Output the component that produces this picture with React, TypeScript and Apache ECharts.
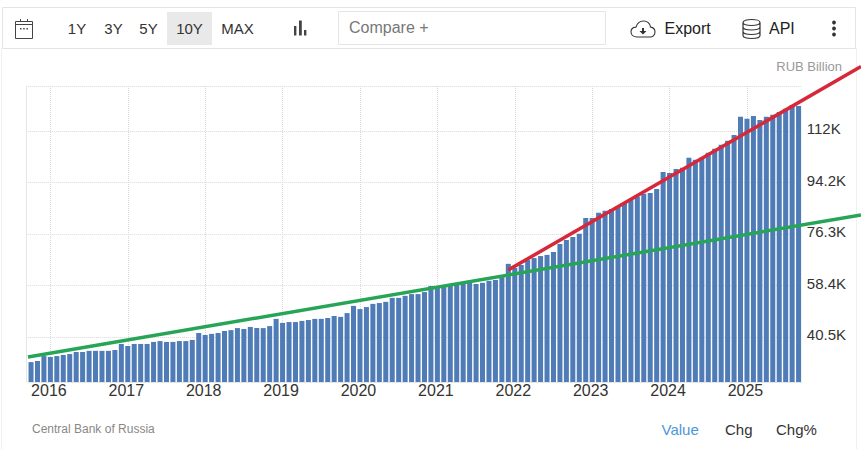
import React, { useEffect, useRef } from "react";
import * as echarts from "echarts";

const FONT = "'Liberation Sans', Arial, sans-serif";

// Monthly values, thousands of RUB billion, Oct 2015 .. Sep 2025
const values2015 = [31.9, 32.3, 34.0];
const values2016 = [33.7, 34.0, 34.4, 34.7, 35.4, 35.4, 35.8, 35.8, 35.8, 35.8, 36.1, 38.2];
const values2017 = [37.5, 38.2, 38.2, 38.2, 38.9, 39.2, 38.9, 38.9, 39.2, 39.2, 39.6, 42.0];
const values2018 = [41.3, 41.7, 42.0, 42.7, 43.0, 43.7, 43.4, 44.1, 43.7, 43.7, 44.4, 46.9];
const values2019 = [45.5, 45.8, 45.8, 46.2, 46.5, 46.9, 46.9, 47.2, 47.9, 47.6, 48.9, 51.4];
const values2020 = [50.3, 51.0, 52.1, 52.4, 52.8, 54.2, 54.2, 54.9, 55.5, 55.5, 56.2, 58.3];
const values2021 = [57.6, 58.0, 58.3, 58.7, 59.0, 59.4, 59.0, 59.4, 60.1, 60.4, 61.4, 66.0];
const values2022 = [64.6, 65.6, 67.3, 68.0, 68.7, 69.1, 70.1, 72.9, 74.3, 75.3, 76.4, 81.9];
const values2023 = [81.9, 83.7, 84.4, 85.0, 86.1, 87.1, 88.5, 89.4, 90.3, 90.6, 92.0, 97.9];
const values2024 = [97.5, 98.9, 99.3, 102.8, 102.1, 102.8, 104.5, 105.9, 107.3, 108.7, 110.7, 117.0];
const values2025 = [116.3, 117.3, 115.9, 117.0, 117.7, 118.7, 119.8, 121.1, 120.8];

const allValues = [
  ...values2015, ...values2016, ...values2017, ...values2018, ...values2019, ...values2020,
  ...values2021, ...values2022, ...values2023, ...values2024, ...values2025,
];

const categories: string[] = allValues.map((_, i) => {
  const m = i + 9; // months since Jan 2015
  return `${2015 + Math.floor(m / 12)}-${String((m % 12) + 1).padStart(2, "0")}`;
});

const yTickLabels = [40.5, 58.4, 76.3, 94.2, 112];
const yGridValues = [40.5, 58.4, 76.3, 94.2, 112, 127.7];

// Trend lines: [month index, value]
const greenTrend = [[-0.47, 33.7], [128.68, 83.0]];
const redTrend = [[74, 63.9], [128.68, 134.5]];

const rangeButtons = [
  { label: "1Y", x: 77 },
  { label: "3Y", x: 113.5 },
  { label: "5Y", x: 148.5 },
  { label: "10Y", x: 189.5 },
  { label: "MAX", x: 237.5 },
];

const TEXT = "#333333";
const FRAME = "#e4e4e4";

echarts.graphic.registerShape(
  "cloudIcon",
  echarts.graphic.extendPath(
    "M6 16.5 C2 16.5 0 14 0 11.2 C0 8.5 2.2 6.8 5 6.6 C6 3 9 0.5 12.5 0.5 C16.5 0.5 19 3.3 19.6 6.6 C22.2 7 24 8.8 24 11.5 C24 14.3 22 16.5 19 16.5 Z",
    {}
  )
);
echarts.graphic.registerShape(
  "cloudArrow",
  echarts.graphic.extendPath("M11 7.5 H13 V10.5 H15.5 L12 14 L8.5 10.5 H11 Z", {})
);
echarts.graphic.registerShape(
  "dbIcon",
  echarts.graphic.extendPath(
    "M0 3 C0 1 4 0 8.5 0 C13 0 17 1 17 3 V16 C17 18 13 19 8.5 19 C4 19 0 18 0 16 Z M0 3 C0 5 4 6 8.5 6 C13 6 17 5 17 3 M0 7.5 C0 9.5 4 10.5 8.5 10.5 C13 10.5 17 9.5 17 7.5 M0 12 C0 14 4 15 8.5 15 C13 15 17 14 17 12",
    {}
  )
);

function label(text: string, x: number, y: number, fontSize: number, fill: string, align: string = "left") {
  return {
    type: "text",
    x,
    y,
    silent: true,
    style: { text, fontSize, fill, fontFamily: FONT, align, verticalAlign: "middle" },
  };
}

function box(x: number, y: number, width: number, height: number, stroke: string) {
  return {
    type: "rect",
    silent: true,
    shape: { x, y, width, height },
    style: { fill: "none", stroke, lineWidth: 1 },
  };
}

function segment(x1: number, y1: number, x2: number, y2: number, stroke: string, lineWidth = 1) {
  return {
    type: "line",
    silent: true,
    shape: { x1, y1, x2, y2 },
    style: { stroke, lineWidth },
  };
}

function solid(x: number, y: number, width: number, height: number, fill: string) {
  return { type: "rect", silent: true, shape: { x, y, width, height }, style: { fill } };
}

function dot(cx: number, cy: number, r: number, fill: string) {
  return { type: "circle", silent: true, shape: { cx, cy, r }, style: { fill } };
}

const chrome: any[] = [
  segment(1.5, 48, 1.5, 449, "#f0f0f0"),
  segment(856.5, 48, 856.5, 449, "#f0f0f0"),
  box(2.5, 7.5, 853, 41, FRAME),
  // calendar
  box(15.5, 21.5, 17, 17, "#444"),
  segment(15.5, 24.5, 32.5, 24.5, "#444"),
  segment(20.5, 19, 20.5, 22, "#444"),
  segment(27.5, 19, 27.5, 22, "#444"),
  solid(20, 28, 1.5, 1.5, "#444"),
  solid(23.2, 28, 1.5, 1.5, "#444"),
  solid(26.4, 28, 1.5, 1.5, "#444"),
  // range buttons
  solid(167, 12, 45, 33, "#e9e9e9"),
  ...rangeButtons.map((b) => label(b.label, b.x, 28, 15, TEXT, "center")),
  // chart-type bars
  solid(294, 26, 2.4, 9.5, "#444"),
  solid(299, 20.5, 2.8, 15, "#444"),
  solid(304, 30, 2.4, 5.5, "#444"),
  // compare
  box(338.5, 11.5, 267, 33, FRAME),
  label("Compare +", 349, 27.5, 16, "#777777"),
  // export
  {
    type: "cloudIcon",
    x: 631,
    y: 20.5,
    silent: true,
    style: { fill: "none", stroke: "#333", lineWidth: 1.1 },
  },
  { type: "cloudArrow", x: 631, y: 20.5, silent: true, style: { fill: "#333" } },
  label("Export", 664.5, 28, 16, "#222222"),
  // API
  {
    type: "dbIcon",
    x: 743,
    y: 19.5,
    silent: true,
    style: { fill: "none", stroke: "#333", lineWidth: 1.2 },
  },
  label("API", 769, 28, 16, "#222222"),
  // menu dots
  dot(834, 22.5, 1.9, "#333"),
  dot(834, 28.5, 1.9, "#333"),
  dot(834, 34.5, 1.9, "#333"),
  // header / footer text
  label("RUB Billion", 842, 66, 13, "#999999", "right"),
  label("Central Bank of Russia", 32, 428.5, 12, "#888888"),
  label("Value", 661.5, 429, 15, "#4a97d9"),
  label("Chg", 725, 429, 15, TEXT),
  label("Chg%", 776, 429, 15, TEXT),
  // plot left edge
  segment(26.5, 86, 26.5, 382, "#e6e6e6"),
];

export default function App() {
  const ref = useRef<HTMLDivElement>(null);

  useEffect(() => {
    document.body.style.margin = "0";
    document.body.style.background = "#ffffff";
    const chart = echarts.init(ref.current!, undefined, { renderer: "svg" });
    const isYearStart = (i: number) => categories[i].endsWith("-01");
    chart.setOption({
      animation: false,
      backgroundColor: "#ffffff",
      textStyle: { fontFamily: FONT },
      grid: [
        { left: 27.8, top: 86, width: 774, height: 296, containLabel: false },
        { left: 27.8, top: 60, width: 833.2, height: 322, containLabel: false },
      ],
      xAxis: [
        {
          type: "category",
          gridIndex: 0,
          data: categories,
          boundaryGap: true,
          axisLine: { show: true, lineStyle: { color: "#e6e6e6" } },
          axisTick: { show: false, alignWithLabel: true, interval: (i: number) => isYearStart(i) },
          axisLabel: {
            interval: (i: number) => isYearStart(i),
            formatter: (v: string) => v.slice(0, 4),
            color: TEXT,
            fontSize: 16,
            fontFamily: FONT,
            margin: 0,
            padding: [0, 3, 0, 0],
            hideOverlap: false,
          },
          splitLine: {
            show: true,
            alignWithLabel: true,
            interval: (i: number) => isYearStart(i),
            lineStyle: { color: "#d8d8d8", type: "dotted", width: 1 },
          },
        },
        {
          type: "value",
          gridIndex: 1,
          min: -0.5,
          max: 128.68,
          show: false,
        },
      ],
      yAxis: [
        {
          type: "value",
          gridIndex: 0,
          position: "right",
          min: 25,
          max: 127.7,
          axisLine: { show: false },
          axisTick: { show: false, customValues: yGridValues },
          axisLabel: {
            customValues: yTickLabels,
            formatter: (v: number) => `${v}K`,
            color: TEXT,
            fontSize: 15,
            fontFamily: FONT,
            margin: 5,
            verticalAlign: "bottom",
            lineHeight: 5,
          },
          splitLine: { show: true, lineStyle: { color: "#d8d8d8", type: "dotted", width: 1 } },
        },
        {
          type: "value",
          gridIndex: 1,
          min: 25,
          max: 136.77,
          show: false,
        },
      ],
      series: [
        {
          type: "bar",
          xAxisIndex: 0,
          yAxisIndex: 0,
          data: allValues,
          barWidth: "78%",
          itemStyle: { color: "#4f7cb7" },
          silent: true,
        },
        {
          type: "line",
          name: "Long-term trend",
          xAxisIndex: 1,
          yAxisIndex: 1,
          data: greenTrend,
          showSymbol: false,
          silent: true,
          lineStyle: { color: "#27a556", width: 3.5 },
          z: 5,
        },
        {
          type: "line",
          name: "Recent trend",
          xAxisIndex: 1,
          yAxisIndex: 1,
          data: redTrend,
          showSymbol: false,
          silent: true,
          lineStyle: { color: "#d62839", width: 3.5 },
          z: 6,
        },
      ],
      graphic: chrome,
    });
    return () => chart.dispose();
  }, []);

  return <div ref={ref} style={{ position: "absolute", left: 0, top: 0, width: 861, height: 449 }} />;
}
